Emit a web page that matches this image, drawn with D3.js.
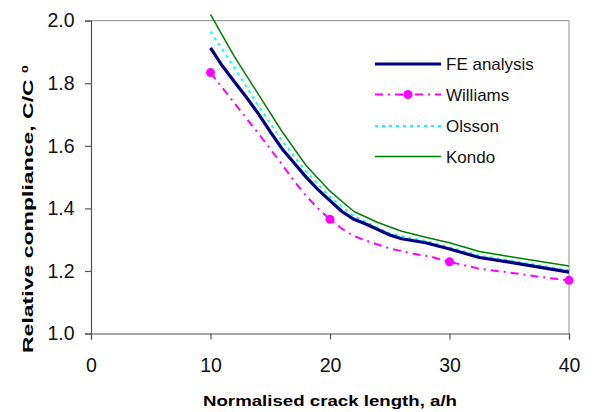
<!DOCTYPE html>
<html>
<head>
<meta charset="utf-8">
<script src="https://cdn.jsdelivr.net/npm/d3@7"></script>
<style>
  html, body { margin: 0; padding: 0; background: #fff; }
  svg { display: block; font-family: "Liberation Sans", Arial, sans-serif; }
</style>
</head>
<body>
<svg id="chart" width="593" height="412"></svg>
<script>
// ---- data ----
const xTicks = [0, 10, 20, 30, 40];
const yTicks = [1.0, 1.2, 1.4, 1.6, 1.8, 2.0];
const seriesNames = ["FE analysis", "Williams", "Olsson", "Kondo"];

const feX = [10, 11, 12, 13, 14, 15, 16, 17, 18, 19, 20, 21, 22, 23, 25, 26, 28, 30, 32.5, 35, 37.5, 40];
const feY = [1.913, 1.855, 1.805, 1.755, 1.703, 1.645, 1.59, 1.545, 1.50, 1.46, 1.425, 1.39, 1.365, 1.35, 1.315, 1.303, 1.29, 1.27, 1.243, 1.228, 1.212, 1.196];

const williamsX = [10, 11, 12, 13, 14, 15, 16, 17, 18, 19, 20, 21, 22, 23, 25, 27, 28.5, 30, 32.5, 35, 37.5, 40];
const williamsY = [1.834, 1.785, 1.737, 1.688, 1.64, 1.59, 1.54, 1.487, 1.44, 1.40, 1.365, 1.335, 1.312, 1.297, 1.272, 1.255, 1.245, 1.229, 1.207, 1.195, 1.181, 1.170];
const williamsMarkerX = [10, 20, 30, 40];
const williamsMarkerY = [1.834, 1.365, 1.229, 1.170];

const olssonX = [10, 12, 14, 16, 18, 20, 22, 25, 28, 30, 32.5, 35, 37.5, 40];
const olssonY = [1.965, 1.85, 1.728, 1.615, 1.518, 1.437, 1.375, 1.32, 1.296, 1.276, 1.249, 1.234, 1.218, 1.202];

const kondoX = [10, 12, 14, 16, 18, 20, 22, 24, 26, 28, 30, 32.5, 35, 37.5, 40];
const kondoY = [2.02, 1.885, 1.765, 1.645, 1.537, 1.455, 1.39, 1.355, 1.327, 1.308, 1.29, 1.262, 1.246, 1.231, 1.216];

// ---- layout ----
const svg = d3.select("#chart");
const pL = 91, pR = 569, pT = 20.7, pB = 333.5;
const x = d3.scaleLinear().domain([0, 40]).range([pL, pR]);
const y = d3.scaleLinear().domain([1.0, 2.0]).range([pB, pT]);

// frame (top and right)
svg.append("line").attr("x1", pL).attr("x2", pR).attr("y1", pT).attr("y2", pT)
  .attr("stroke", "#a0a0a0").attr("stroke-width", 1.2);
svg.append("line").attr("x1", pR).attr("x2", pR).attr("y1", pT).attr("y2", pB)
  .attr("stroke", "#a0a0a0").attr("stroke-width", 1.2);

// axes
const xAxis = svg.append("g").attr("transform", `translate(0,${pB})`)
  .call(d3.axisBottom(x).tickValues(xTicks).tickSize(6).tickPadding(19).tickFormat(d3.format("d")));
const yAxis = svg.append("g").attr("transform", `translate(${pL},0)`)
  .call(d3.axisLeft(y).tickValues(yTicks).tickSize(6).tickPadding(10.5).tickFormat(d3.format(".1f")));
[xAxis, yAxis].forEach(g => {
  g.select(".domain").attr("stroke", "#555").attr("stroke-width", 1.2);
  g.selectAll(".tick line").attr("stroke", "#555").attr("stroke-width", 1.2);
  g.selectAll(".tick text").attr("fill", "#111").attr("font-size", 19.5)
    .attr("font-family", "'Liberation Sans', Arial, sans-serif");
});

// axis titles
svg.append("text").attr("x", 330).attr("y", 405.5).attr("text-anchor", "middle")
  .attr("font-size", 15.5).attr("font-weight", "bold").attr("fill", "#000")
  .attr("textLength", 254).attr("lengthAdjust", "spacingAndGlyphs")
  .text("Normalised crack length, a/h");
const yt = svg.append("text").attr("transform", "translate(32.5,209) rotate(-90)")
  .attr("text-anchor", "middle").attr("font-size", 15.5).attr("font-weight", "bold").attr("fill", "#000")
  .attr("textLength", 288).attr("lengthAdjust", "spacingAndGlyphs");
yt.append("tspan").text("Relative compliance, C/C ");
yt.append("tspan").attr("font-size", 9.5).attr("dy", -5).text("0");

// lines
const line = d3.line().x(d => x(d[0])).y(d => y(d[1]));
const zip = (a, b) => a.map((v, i) => [v, b[i]]);

const styles = {
  "FE analysis": { color: "#000080", width: 3.2, dash: null },
  "Williams": { color: "#ff00ff", width: 2, dash: "8,5,2,5" },
  "Olsson": { color: "#00ffff", width: 2, dash: "3,4" },
  "Kondo": { color: "#008000", width: 1.5, dash: null }
};
const data = {
  "FE analysis": zip(feX, feY),
  "Williams": zip(williamsX, williamsY),
  "Olsson": zip(olssonX, olssonY),
  "Kondo": zip(kondoX, kondoY)
};
["Kondo", "Olsson", "Williams", "FE analysis"].forEach(name => {
  const s = styles[name];
  svg.append("path").datum(data[name]).attr("d", line)
    .attr("fill", "none").attr("stroke", s.color).attr("stroke-width", s.width)
    .attr("stroke-dasharray", s.dash).attr("stroke-linejoin", "round");
});
svg.selectAll("circle.wm").data(zip(williamsMarkerX, williamsMarkerY)).enter()
  .append("circle").attr("class", "wm").attr("cx", d => x(d[0])).attr("cy", d => y(d[1]))
  .attr("r", 4.5).attr("fill", "#ff00ff");

// legend
const lg = svg.append("g");
const legY = [64, 94.5, 126, 156.5];
seriesNames.forEach((name, i) => {
  const s = styles[name];
  lg.append("line").attr("x1", 375).attr("x2", 441).attr("y1", legY[i]).attr("y2", legY[i])
    .attr("stroke", s.color).attr("stroke-width", s.width).attr("stroke-dasharray", s.dash);
  if (name === "Williams") {
    lg.append("circle").attr("cx", 408).attr("cy", legY[i]).attr("r", 4.5).attr("fill", "#ff00ff");
  }
  lg.append("text").attr("x", 446).attr("y", legY[i] + 6).attr("font-size", 17)
    .attr("fill", "#111").text(name);
});
</script>
</body>
</html>
